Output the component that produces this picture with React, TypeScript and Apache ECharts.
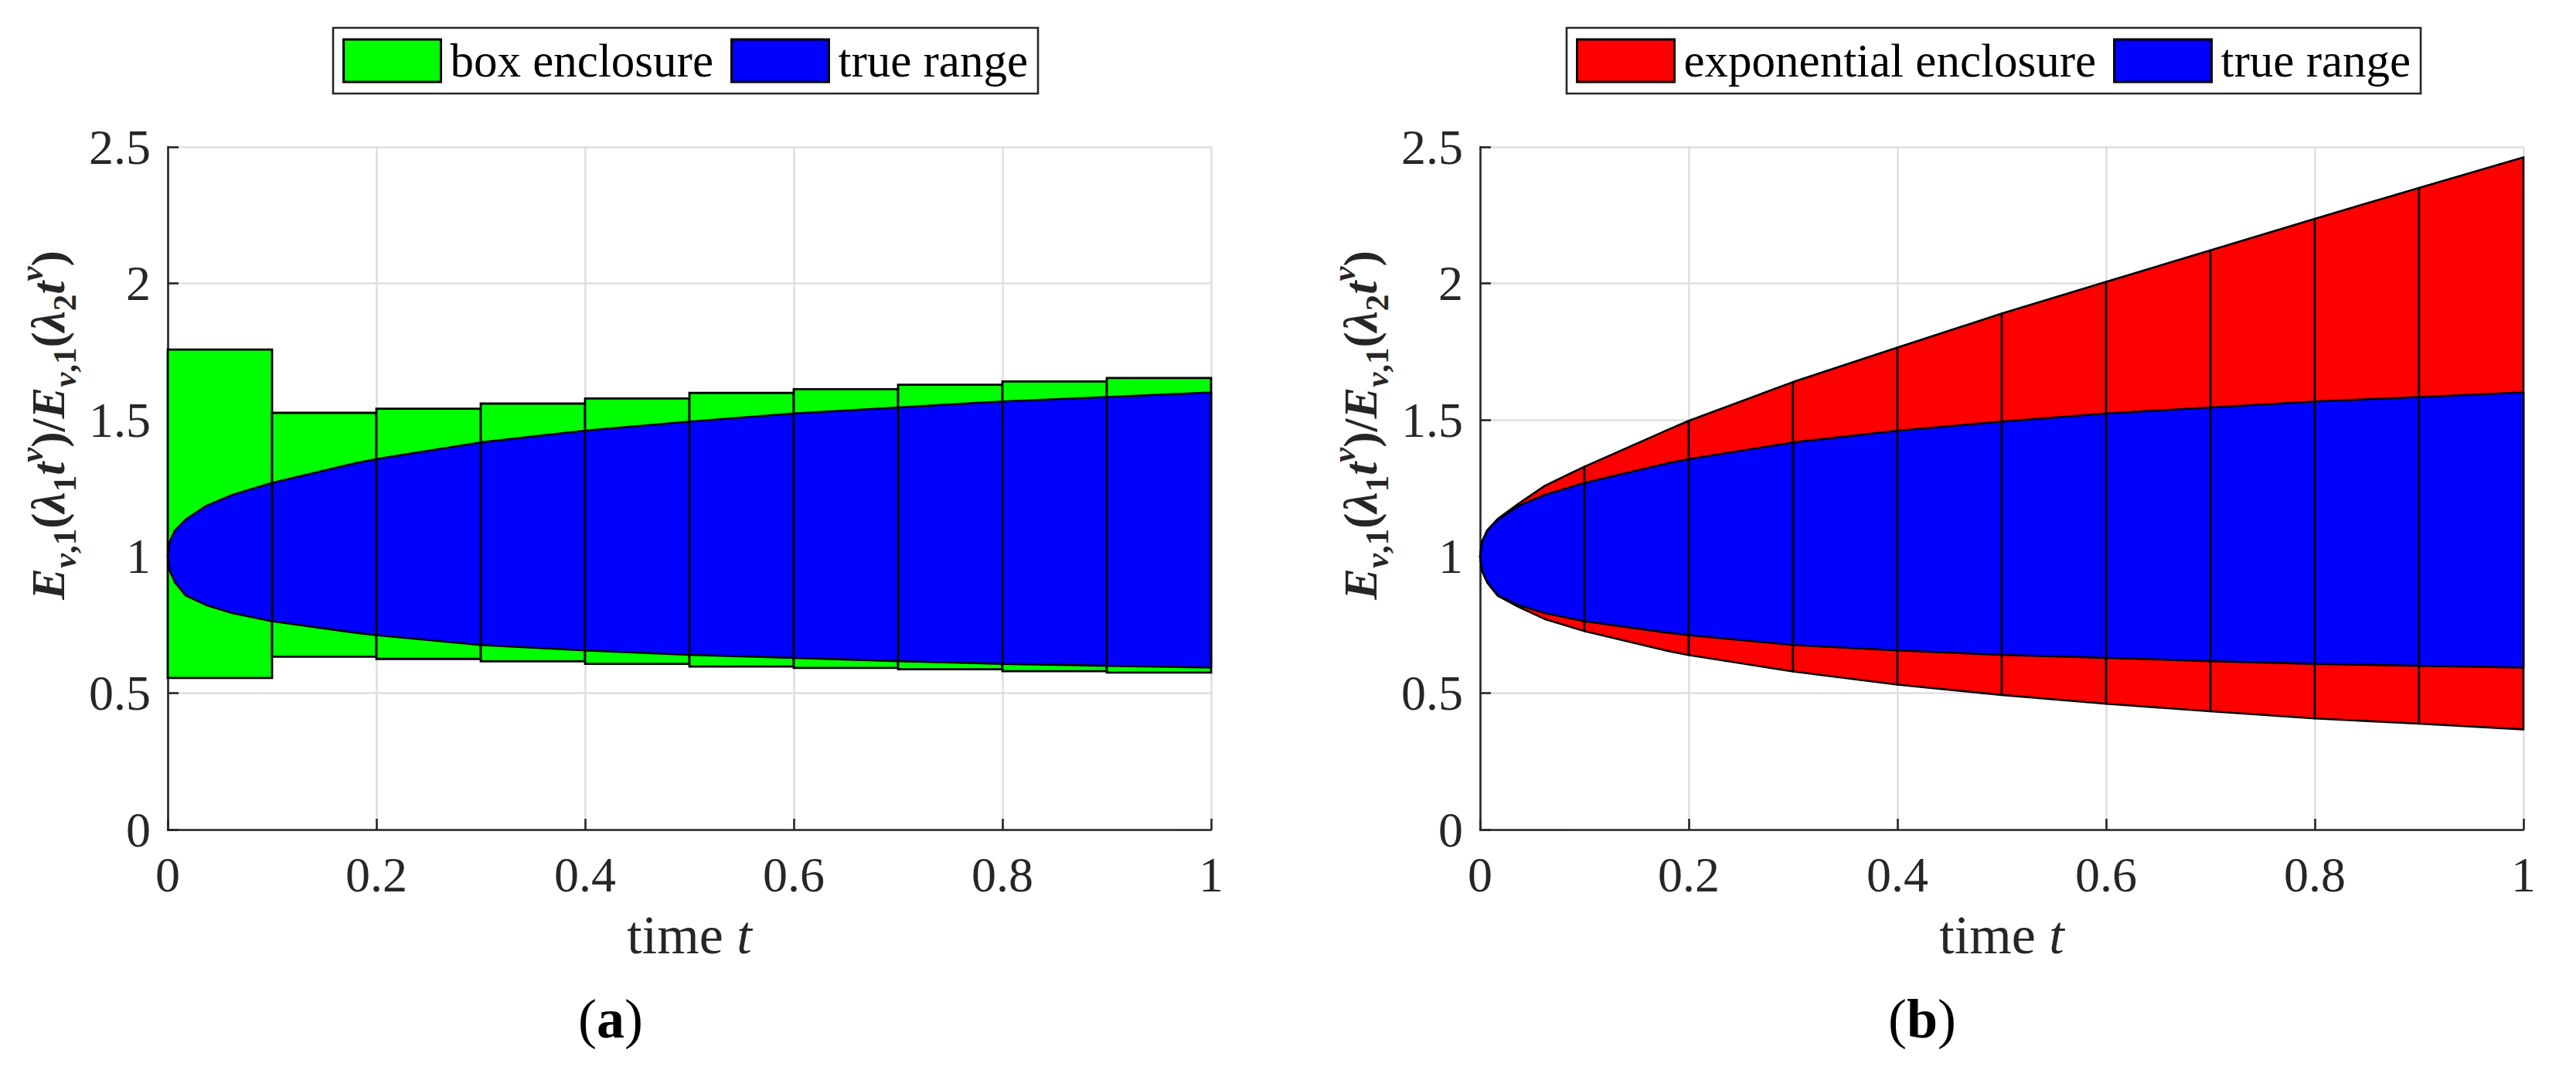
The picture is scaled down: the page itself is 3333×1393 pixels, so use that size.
import React, { useEffect, useRef } from 'react';
import * as echarts from 'echarts';

// ---- data ----
const timeGrid = [0, 0.002, 0.007, 0.017, 0.037, 0.062, 0.1, 0.18, 0.2, 0.3, 0.4, 0.5, 0.6, 0.7, 0.8, 0.9, 1.0];
const trueUpper = [1, 1.055, 1.096, 1.135, 1.186, 1.226, 1.27, 1.342, 1.357, 1.418, 1.461, 1.494, 1.524, 1.546, 1.568, 1.584, 1.601];
const trueLower = [1, 0.947, 0.905, 0.858, 0.822, 0.793, 0.763, 0.721, 0.712, 0.676, 0.656, 0.64, 0.629, 0.617, 0.607, 0.6, 0.593];
const expUpper = [1, 1.055, 1.097, 1.138, 1.194, 1.259, 1.329, 1.464, 1.497, 1.639, 1.765, 1.89, 2.006, 2.121, 2.237, 2.35, 2.462];
const expLower = [1, 0.946, 0.904, 0.856, 0.815, 0.771, 0.727, 0.654, 0.639, 0.579, 0.531, 0.493, 0.461, 0.433, 0.407, 0.388, 0.367];
const intervalEdges = [0, 0.1, 0.2, 0.3, 0.4, 0.5, 0.6, 0.7, 0.8, 0.9, 1.0];
const boxTop = [1.758, 1.526, 1.541, 1.56, 1.579, 1.599, 1.613, 1.629, 1.641, 1.654];
const boxBottom = [0.555, 0.633, 0.625, 0.616, 0.607, 0.597, 0.592, 0.587, 0.58, 0.575];
const legendLeft = ['box enclosure', 'true range'];
const legendRight = ['exponential enclosure', 'true range'];
const panelTags = ['a', 'b'];

const FONT = '"Liberation Serif", "DejaVu Serif", serif';
const AX = '#262626';
const GREEN = '#00ff00';
const BLUE = '#0000ff';
const RED = '#ff0000';

function bandRenderer(upper: number[], lower: number[], color: string) {
  return (_params: any, api: any) => {
    const a = api.value(0);
    const b = api.value(1);
    const idx: number[] = [];
    timeGrid.forEach((t, i) => {
      if (t >= a - 1e-9 && t <= b + 1e-9) idx.push(i);
    });
    const pts = idx
      .map((i) => api.coord([timeGrid[i], upper[i]]))
      .concat(idx.slice().reverse().map((i) => api.coord([timeGrid[i], lower[i]])));
    return {
      type: 'polygon',
      shape: { points: pts },
      style: { fill: color, stroke: '#000', lineWidth: 2.6, lineJoin: 'round' },
    };
  };
}

function boxRenderer(_params: any, api: any) {
  const p0 = api.coord([api.value(0), api.value(3)]);
  const p1 = api.coord([api.value(1), api.value(2)]);
  return {
    type: 'rect',
    shape: { x: p0[0], y: p0[1], width: p1[0] - p0[0], height: p1[1] - p0[1] },
    style: { fill: GREEN, stroke: '#000', lineWidth: 2.8, lineJoin: 'miter' },
  };
}

const intervals = intervalEdges.slice(0, -1).map((t, i) => [t, intervalEdges[i + 1]]);
const boxData = intervals.map((iv, i) => [iv[0], iv[1], boxBottom[i], boxTop[i]]);

function makeXAxis(gridIndex: number) {
  return {
    gridIndex,
    type: 'value',
    min: 0,
    max: 1,
    interval: 0.2,
    axisLine: { show: true, onZero: false, lineStyle: { color: AX, width: 2.6 } },
    axisTick: { show: true, inside: true, length: 14, lineStyle: { color: AX, width: 2.6 } },
    axisLabel: { margin: 26, color: AX, fontFamily: FONT, fontSize: 64, showMinLabel: true, showMaxLabel: true },
    splitLine: { show: true, lineStyle: { color: '#dfdfdf', width: 2.6 } },
  };
}
function makeYAxis(gridIndex: number) {
  return {
    gridIndex,
    type: 'value',
    min: 0,
    max: 2.5,
    interval: 0.5,
    axisLine: { show: true, onZero: false, lineStyle: { color: AX, width: 2.6 } },
    axisTick: { show: true, inside: true, length: 14, lineStyle: { color: AX, width: 2.6 } },
    axisLabel: { margin: 22, color: AX, fontFamily: FONT, fontSize: 64, showMinLabel: true, showMaxLabel: true },
    splitLine: { show: true, lineStyle: { color: '#dfdfdf', width: 2.6 } },
  };
}

const yLabelText =
  '{m|E}{si|ν}{su|,1}{u|(}{m|λ}{su|1}{m|t}{p|ν}{u|)/}{m|E}{si|ν}{su|,1}{u|(}{m|λ}{su|2}{m|t}{p|ν}{u|)}';
const yLabelRich = {
  m: { fontFamily: FONT, fontSize: 61, fontWeight: 'bold', fontStyle: 'italic', lineHeight: 86, fill: AX },
  u: { fontFamily: FONT, fontSize: 61, fontWeight: 'bold', lineHeight: 86, fill: AX },
  si: { fontFamily: FONT, fontSize: 43, fontWeight: 'bold', fontStyle: 'italic', lineHeight: 43, verticalAlign: 'bottom', fill: AX },
  su: { fontFamily: FONT, fontSize: 43, fontWeight: 'bold', lineHeight: 43, verticalAlign: 'bottom', fill: AX },
  p: { fontFamily: FONT, fontSize: 43, fontWeight: 'bold', fontStyle: 'italic', lineHeight: 43, verticalAlign: 'top', fill: AX },
};

function yLabel(x: number) {
  return {
    type: 'text',
    x,
    y: 550,
    rotation: Math.PI / 2,
    style: { text: yLabelText, rich: yLabelRich, align: 'center', verticalAlign: 'middle', fill: AX },
  };
}
function xLabel(x: number) {
  return {
    type: 'text',
    x,
    y: 1209,
    style: {
      text: '{n|time }{i|t}',
      rich: {
        n: { fontFamily: FONT, fontSize: 70, fill: AX },
        i: { fontFamily: FONT, fontSize: 70, fontStyle: 'italic', fill: AX },
      },
      align: 'center',
      verticalAlign: 'middle',
    },
  };
}
function tag(x: number, letter: string) {
  return {
    type: 'text',
    x,
    y: 1318,
    style: {
      text: '{n|(}{b|' + letter + '}{n|)}',
      rich: {
        n: { fontFamily: FONT, fontSize: 72, fill: '#000' },
        b: { fontFamily: FONT, fontSize: 72, fontWeight: 'bold', fill: '#000' },
      },
      align: 'center',
      verticalAlign: 'middle',
    },
  };
}

function makeLegend(left: number, names: string[]) {
  return {
    left,
    top: 36,
    orient: 'horizontal',
    data: names,
    icon: 'rect',
    itemWidth: 126,
    itemHeight: 55,
    itemGap: 22,
    padding: [12, 13, 12, 12],
    borderColor: AX,
    borderWidth: 2.6,
    backgroundColor: '#fff',
    selectedMode: false,
    itemStyle: { borderColor: '#000', borderWidth: 3 },
    textStyle: { fontFamily: FONT, fontSize: 61, color: '#000', padding: [0, 0, 0, 7] },
  };
}

export default function App() {
  const ref = useRef<HTMLDivElement>(null);
  useEffect(() => {
    document.body.style.margin = '0';
    if (!ref.current) return;
    const chart = echarts.init(ref.current, null, { renderer: 'svg' });
    chart.setOption({
      animation: false,
      backgroundColor: '#fff',
      grid: [
        { left: 217, top: 190, width: 1350, height: 883 },
        { left: 1915, top: 190, width: 1350, height: 883 },
      ],
      xAxis: [makeXAxis(0), makeXAxis(1)],
      yAxis: [makeYAxis(0), makeYAxis(1)],
      legend: [makeLegend(431, legendLeft), makeLegend(2027, legendRight)],
      series: [
        {
          name: 'box enclosure',
          type: 'custom',
          xAxisIndex: 0,
          yAxisIndex: 0,
          data: boxData,
          encode: { x: [0, 1], y: [2, 3] },
          itemStyle: { color: GREEN },
          renderItem: boxRenderer,
        },
        {
          name: 'true range',
          type: 'custom',
          xAxisIndex: 0,
          yAxisIndex: 0,
          data: intervals,
          encode: { x: [0, 1] },
          itemStyle: { color: BLUE },
          renderItem: bandRenderer(trueUpper, trueLower, BLUE),
        },
        {
          name: 'exponential enclosure',
          type: 'custom',
          xAxisIndex: 1,
          yAxisIndex: 1,
          data: intervals,
          encode: { x: [0, 1] },
          itemStyle: { color: RED },
          renderItem: bandRenderer(expUpper, expLower, RED),
        },
        {
          name: 'true range',
          type: 'custom',
          xAxisIndex: 1,
          yAxisIndex: 1,
          data: intervals,
          encode: { x: [0, 1] },
          itemStyle: { color: BLUE },
          renderItem: bandRenderer(trueUpper, trueLower, BLUE),
        },
      ],
      graphic: [
        yLabel(62),
        yLabel(1760),
        xLabel(892),
        xLabel(2590),
        tag(790, panelTags[0]),
        tag(2487, panelTags[1]),
      ],
    });
    return () => chart.dispose();
  }, []);
  return <div ref={ref} style={{ width: 3333, height: 1393, background: '#fff' }} />;
}
